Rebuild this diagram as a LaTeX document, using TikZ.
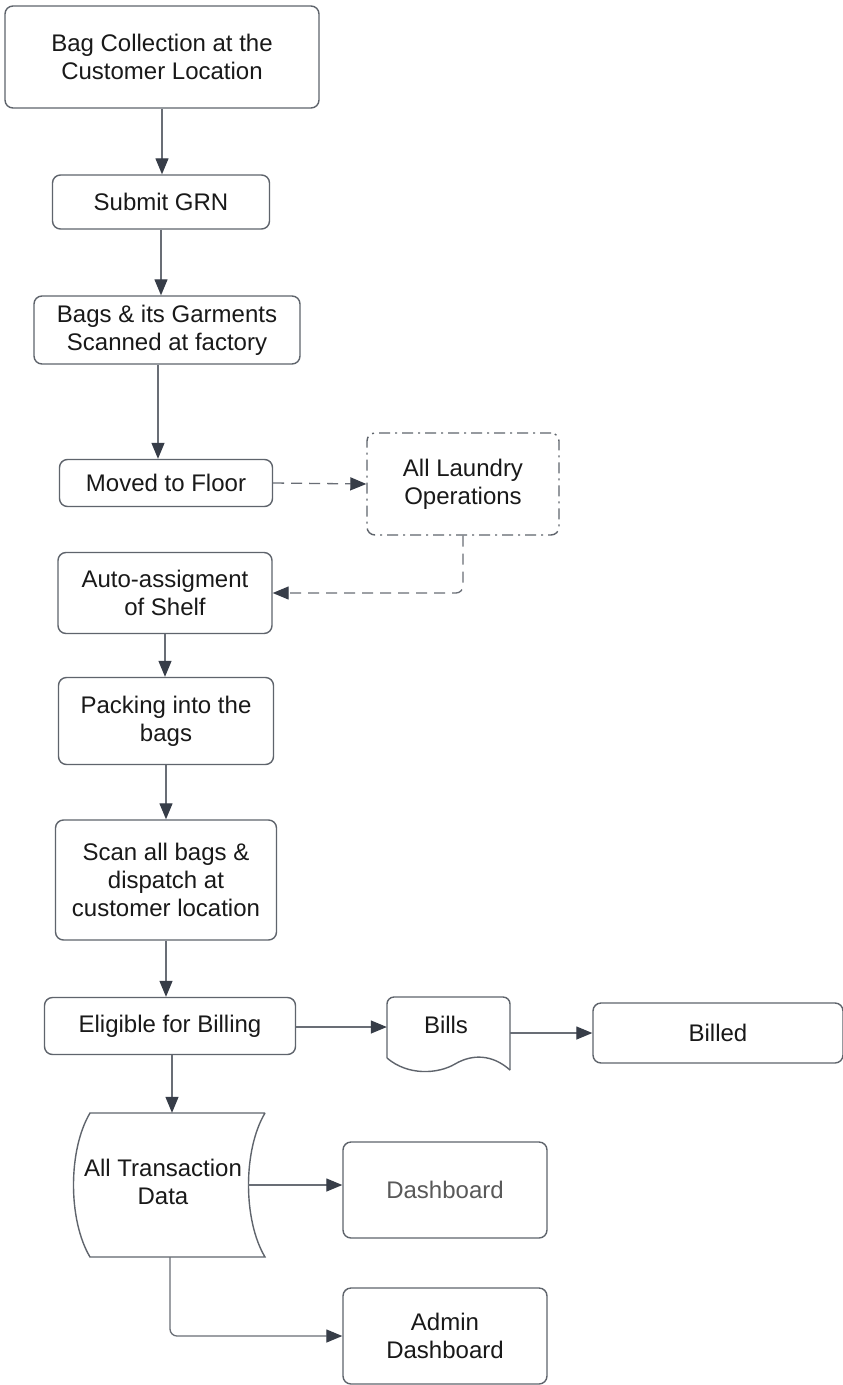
\documentclass[tikz,border=0pt]{standalone}
\usepackage{fontspec}
\setmainfont{Liberation Sans}
\usetikzlibrary{arrows.meta}
\definecolor{edgec}{RGB}{95,100,108}
\definecolor{linec}{RGB}{105,110,118}
\definecolor{tipc}{RGB}{55,61,72}
\definecolor{txt}{RGB}{25,25,25}
\begin{document}
\begin{tikzpicture}[x=1pt,y=-1pt,
  font=\fontsize{24}{28}\selectfont,
  box/.style={draw=edgec, line width=1.4pt, rounded corners=8pt, align=center, text=txt, inner sep=0pt},
  plain/.style={align=center, text=txt, inner sep=0pt},
  arr/.style={draw=linec, line width=1.3pt, -{Triangle[length=16pt,width=13pt,color=tipc,fill=tipc]}},
  dsh/.style={arr, dash pattern=on 11pt off 7pt},
  shp/.style={draw=edgec, line width=1.4pt}]
\useasboundingbox (0,0) rectangle (843,1385);
\fill[white] (0,0) rectangle (843,1385);

\node[box, minimum width=314pt, minimum height=102pt] (n1) at (162,57) {Bag Collection at the\\Customer Location};
\node[box, minimum width=217pt, minimum height=54pt] (n2) at (161,202) {Submit GRN};
\node[box, minimum width=266pt, minimum height=68pt] (n3) at (167,330) {Bags \& its Garments\\Scanned at factory};
\node[box, minimum width=213pt, minimum height=47pt] (n4) at (166,483) {Moved to Floor};
\node[box, minimum width=192pt, minimum height=102pt, dash pattern=on 11pt off 5pt on 2pt off 5pt] (n5) at (463,484) {All Laundry\\Operations};
\node[box, minimum width=214pt, minimum height=81pt] (n6) at (165,593) {Auto-assigment\\of Shelf};
\node[box, minimum width=215pt, minimum height=87pt] (n7) at (166,721) {Packing into the\\bags};
\node[box, minimum width=221pt, minimum height=120pt] (n8) at (166,880) {Scan all bags \&\\dispatch at\\customer location};
\node[box, minimum width=251pt, minimum height=57pt] (n9) at (170,1026) {Eligible for Billing};

% Bills document shape
\draw[shp, rounded corners=7pt] (387,1058) -- (387,997) -- (510,997) -- (510,1070);
\draw[shp] (387,1058) .. controls (408,1076) and (438,1074) .. (455,1064) .. controls (472,1054) and (492,1054) .. (510,1070);
\node[plain, minimum width=123pt, minimum height=73pt] (bills) at (448.5,1033) {};
\node[plain] (billst) at (446,1025) {Bills};

\node[box, minimum width=250pt, minimum height=60pt] (n11) at (718,1033) {Billed};

% Stored data shape
\draw[shp] (265,1113) -- (90,1113) .. controls (68,1150) and (68,1220) .. (90,1257) -- (265,1257) .. controls (243,1220) and (243,1150) .. (265,1113);
\node[plain, minimum width=168pt, minimum height=144pt] (tdata) at (164,1185) {};
\node[plain] (tdatat) at (163,1182) {All Transaction\\Data};

\node[box, minimum width=204pt, minimum height=96pt, text=black!65] (n13) at (445,1190) {Dashboard};
\node[box, minimum width=204pt, minimum height=96pt] (n14) at (445,1336) {Admin\\Dashboard};

% connectors
\draw[arr] (n1.south) -- (n1.south |- n2.north);
\draw[arr] (n2.south) -- (n2.south |- n3.north);
\draw[arr] ([xshift=-9pt]n3.south) -- ([xshift=-9pt]n3.south |- n4.north);
\draw[dsh] (n4.east) -- (n5.west);
\draw[dsh, rounded corners=7pt] (n5.south) |- (n6.east);
\draw[arr] (n6.south) -- (n6.south |- n7.north);
\draw[arr] (n7.south) -- (n7.south |- n8.north);
\draw[arr] (n8.south) -- (n8.south |- n9.north);
\draw[arr] ([xshift=2pt]n9.south) -- ([xshift=2pt]n9.south |- tdata.north);
\draw[arr] ([yshift=-1pt]n9.east) -- ([yshift=-1pt]n9.east -| bills.west);
\draw[arr] (bills.east |- n11.west) -- (n11.west);
\draw[arr] (tdata.east) -- (tdata.east -| n13.west);
\draw[arr, rounded corners=7pt] ([xshift=6pt]tdata.south) |- (n14.west);
\end{tikzpicture}
\end{document}
